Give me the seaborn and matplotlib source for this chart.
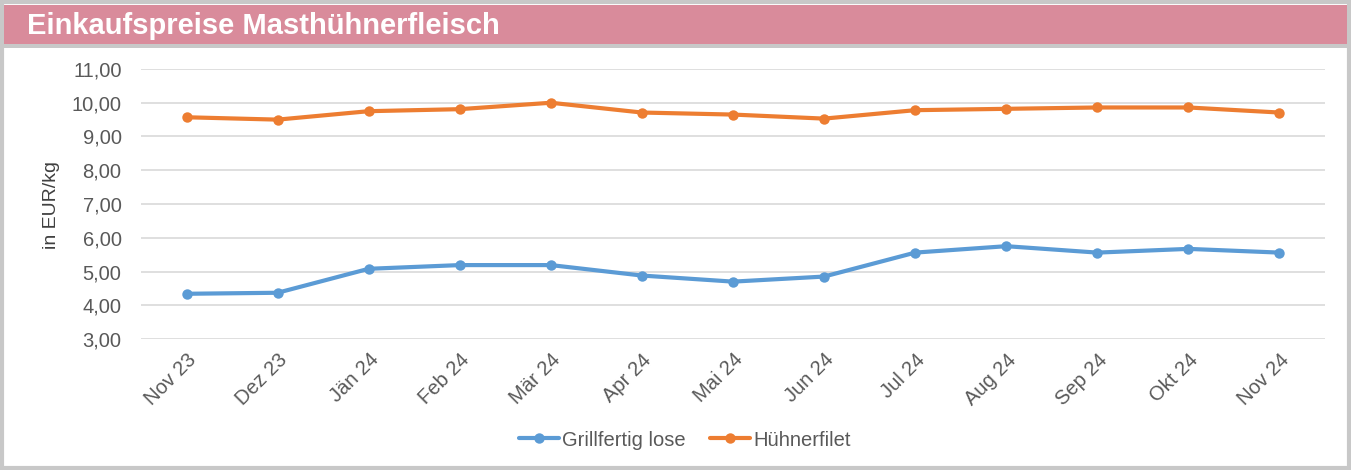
import matplotlib
matplotlib.use("Agg")
import matplotlib.pyplot as plt
from matplotlib.patches import Rectangle
import seaborn as sns
import pandas as pd

months = ["Nov 23", "Dez 23", "Jän 24", "Feb 24", "Mär 24", "Apr 24", "Mai 24",
          "Jun 24", "Jul 24", "Aug 24", "Sep 24", "Okt 24", "Nov 24"]
grillfertig = [4.34, 4.37, 5.08, 5.19, 5.19, 4.88, 4.70, 4.85, 5.56, 5.75, 5.56, 5.67, 5.56]
filet = [9.57, 9.50, 9.75, 9.81, 10.00, 9.71, 9.65, 9.53, 9.78, 9.82, 9.86, 9.86, 9.71]
series_names = ["Grillfertig lose", "Hühnerfilet"]
yticks = [3, 4, 5, 6, 7, 8, 9, 10, 11]
title = "Einkaufspreise Masthühnerfleisch"
ylabel = "in EUR/kg"

df = pd.DataFrame({
    "Monat": months * 2,
    "Preis": grillfertig + filet,
    "Serie": [series_names[0]] * len(months) + [series_names[1]] * len(months),
})

sns.set_theme(style="white")
plt.rcParams["font.family"] = ["Liberation Sans", "DejaVu Sans"]

W, H = 1351, 470
fig = plt.figure(figsize=(W / 100, H / 100), dpi=100)
fig.patch.set_facecolor("white")

# frame border and title band
border = "#c8c8c8"
fig.patches.append(Rectangle((2 / W, 2 / H), 1 - 4 / W, 1 - 4 / H, transform=fig.transFigure,
                             fill=False, edgecolor=border, linewidth=3, zorder=0))
fig.patches.append(Rectangle((4 / W, 1 - 44 / H), 1 - 8 / W, 39 / H, transform=fig.transFigure,
                             facecolor="#d98b9b", edgecolor="none", zorder=1))
fig.patches.append(Rectangle((4 / W, 1 - 47.5 / H), 1 - 8 / W, 3.5 / H, transform=fig.transFigure,
                             facecolor=border, edgecolor="none", zorder=1))
fig.text(27 / W, 1 - 26 / H, title, color="white", fontsize=21, fontweight="bold",
         ha="left", va="center", zorder=2)

ax = fig.add_axes([141 / W, 1 - 339 / H, (1325 - 141) / W, (339 - 69) / H])
palette = {series_names[0]: "#5b9bd5", series_names[1]: "#ed7d31"}
sns.lineplot(data=df, x="Monat", y="Preis", hue="Serie", palette=palette, sort=False,
             marker="o", markersize=7.5, markeredgewidth=0, linewidth=3, ax=ax)

ax.set_xlim(-0.5, len(months) - 0.5)
ax.set_ylim(3, 11)
ax.set_yticks(yticks)
ax.set_yticklabels([f"{v:.2f}".replace(".", ",") for v in yticks])
ax.set_xticks(range(len(months)))
ax.set_xticklabels(months, rotation=45, ha="right", rotation_mode="anchor")
ax.tick_params(axis="both", colors="#595959", labelsize=14.5, length=0)
ax.tick_params(axis="y", pad=14)
ax.tick_params(axis="x", pad=8)
ax.grid(axis="y", color="#d9d9d9", linewidth=1.2)
ax.set_axisbelow(True)
for s in ax.spines.values():
    s.set_visible(False)
ax.set_xlabel("")
ax.set_ylabel(ylabel, color="#404040", fontsize=14)
ax.yaxis.set_label_coords((60 - 141) / (1325 - 141), (339 - 205) / 270)

handles, labels = ax.get_legend_handles_labels()
ax.legend_.remove()
fig.legend(handles, labels, loc="center", bbox_to_anchor=(0.507, 1 - 440 / H), ncol=2,
           frameon=False, fontsize=14.5, handlelength=2.0, columnspacing=1.2,
           handletextpad=0.15, labelcolor="#595959")

fig.savefig("out.png", dpi=100)
